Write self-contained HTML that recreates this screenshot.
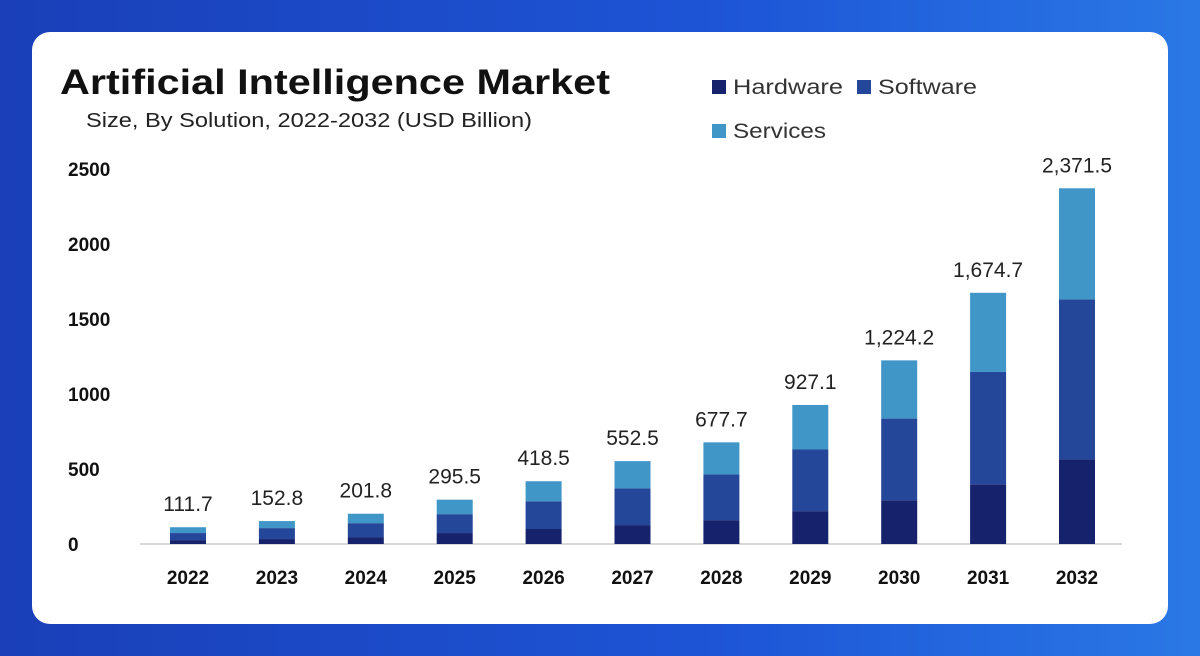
<!DOCTYPE html>
<html><head><meta charset="utf-8">
<style>
body{margin:0;width:1200px;height:656px;overflow:hidden;background:linear-gradient(90deg,#1a3fb8 0%,#1d55d6 60%,#2a78e6 100%);font-family:"Liberation Sans",sans-serif;}
#card{position:absolute;left:32px;top:32px;width:1136px;height:592px;background:#fff;border-radius:18px;}
svg{position:absolute;left:0;top:0;}
</style></head><body>
<div id="card"></div>
<svg id="chart" width="1200" height="656">
<text x="60" y="94" font-size="35" font-weight="bold" fill="#111" textLength="550" lengthAdjust="spacingAndGlyphs">Artificial Intelligence Market</text>
<text x="86" y="127" font-size="20" fill="#222" textLength="446" lengthAdjust="spacingAndGlyphs">Size, By Solution, 2022-2032 (USD Billion)</text>
<g>
<rect x="712" y="80" width="14" height="14" fill="#16226b"/>
<text x="733" y="94" font-size="21" fill="#333" textLength="110" lengthAdjust="spacingAndGlyphs">Hardware</text>
<rect x="857" y="80" width="14" height="14" fill="#25479a"/>
<text x="878" y="94" font-size="21" fill="#333" textLength="99" lengthAdjust="spacingAndGlyphs">Software</text>
<rect x="712" y="124" width="14" height="14" fill="#3f96c7"/>
<text x="733" y="138" font-size="21" fill="#333" textLength="93" lengthAdjust="spacingAndGlyphs">Services</text>
</g>
<line x1="140" y1="544" x2="1122" y2="544" stroke="#ccc" stroke-width="1.5"/>
<g id="bars"></g>
</svg>
<script>
const years=["2022","2023","2024","2025","2026","2027","2028","2029","2030","2031","2032"];
const totals=[111.7,152.8,201.8,295.5,418.5,552.5,677.7,927.1,1224.2,1674.7,2371.5];
const totalLabels=["111.7","152.8","201.8","295.5","418.5","552.5","677.7","927.1","1,224.2","1,674.7","2,371.5"];
const hardware=[26,33,46,73,100,126,159,219,292,398,564];
const software=[47,73,93,126,185,245,305,411,544,749,1067];
const yTicks=[0,500,1000,1500,2000,2500];
const NS="http://www.w3.org/2000/svg";
const g=document.getElementById('bars');
function y(v){return 544-v*(375/2500);}
function x(i){return 188+i*88.9;}
function mk(tag,attrs){const e=document.createElementNS(NS,tag);for(const k in attrs)e.setAttribute(k,attrs[k]);g.appendChild(e);return e;}
yTicks.forEach(t=>{const e=mk('text',{x:68,y:y(t)+7,'font-size':19,'font-weight':'bold',fill:'#111'});e.textContent=t;

});
years.forEach((yr,i)=>{
 const w=36,cx=x(i);
 const services=totals[i]-hardware[i]-software[i];
 const segs=[[0,hardware[i],'#16226b','hardware'],[hardware[i],software[i],'#25479a','software'],[hardware[i]+software[i],services,'#3f96c7','services']];
 segs.forEach(s=>{const r=mk('rect',{x:cx-w/2,y:y(s[0]+s[1]),width:w,height:y(s[0])-y(s[0]+s[1]),fill:s[2]});
 
 });
 const lb=mk('text',{x:cx,y:y(totals[i])-16,'font-size':21,fill:'#222','text-anchor':'middle'});lb.textContent=totalLabels[i];
 
 
 const xl=mk('text',{x:cx,y:584,'font-size':19,'font-weight':'bold',fill:'#111','text-anchor':'middle'});xl.textContent=yr;
 
 
});
</script>
</body></html>
